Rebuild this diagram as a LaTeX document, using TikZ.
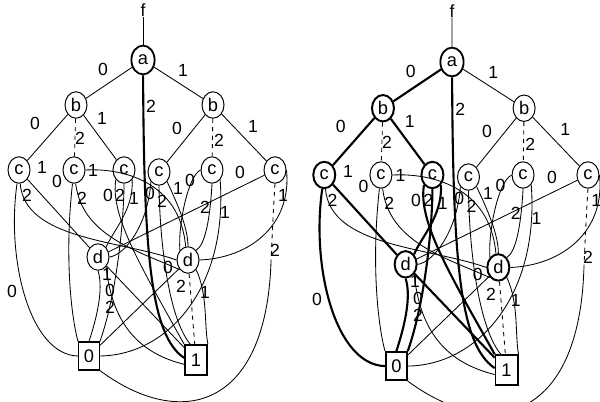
\documentclass[tikz,border=0pt]{standalone}
\usepackage{fontspec}
\setmainfont{Liberation Sans}
\usetikzlibrary{shapes.geometric}

\tikzset{
	var/.style={draw, ellipse, line width=0.7pt, minimum width=0.55cm, minimum height=0.66cm, inner sep=0pt, font=\fontsize{13}{13}\selectfont},
	term/.style={draw, rectangle, line width=0.8pt, minimum width=0.52cm, minimum height=0.7cm, inner sep=0pt, font=\fontsize{13}{13}\selectfont},
	etq/.style={inner sep=0pt, font=\fontsize{12.5}{12.5}\selectfont},
	arista/.style={line width=0.6pt},
	marca/.style={},
	marcanodo/.style={},
}

\newcommand{\diagrama}[1]{%
	% Nodos
		\node[etq] (#1f) at (143,10) {f};
		\node[var, line width=1.3pt, minimum width=0.58cm, minimum height=0.72cm] (#1a) at (143,60) {a};
		\node[var, marcanodo] (#1b0) at (76,105) {b};
		\node[var] (#1b1) at (213,105) {b};
		\node[var, marcanodo] (#1c1) at (19,170) {c};
		\node[var] (#1c2) at (74,170) {c};
		\node[var, marcanodo] (#1c3) at (124,170) {c};
		\node[var] (#1c4) at (159,172) {c};
		\node[var] (#1c5) at (212,170) {c};
		\node[var] (#1c6) at (275,170) {c};
		\node[var, marcanodo] (#1d1) at (98,257) {d};
		\node[var, marcanodo] (#1d2) at (188,260) {d};
		\node[term, marcanodo] (#1t0) at (89,356) {0};
		\node[term, line width=1.3pt, minimum width=0.55cm, minimum height=0.75cm] (#1t1) at (196,360) {1};
		\coordinate (#1m6) at (271,262);
	% Aristas de a
		\draw[arista] (#1f) -- (#1a);
		\draw[arista, marca] (#1a) -- (#1b0);
		\draw[arista] (#1a) -- (#1b1);
		\draw[line width=1.5pt] (#1a) .. controls (144,250) and (150,335) .. (#1t1.170);
	% Aristas de b
		\draw[arista, marca] (#1b0) -- (#1c1);
		\draw[arista, dashed] (#1b0) -- (#1c2);
		\draw[arista, marca] (#1b0) -- (#1c3);
		\draw[arista] (#1b1) -- (#1c4);
		\draw[arista, dashed] (#1b1) -- (#1c5);
		\draw[arista] (#1b1) -- (#1c6);
	% Aristas de c
		\draw[arista, marca] (#1c1) .. controls (6,260) and (30,355) .. (#1t0.west);
		\draw[arista, marca] (#1c1) -- (#1d1);
		\draw[arista] (#1c1) .. controls (25,240) and (120,240) .. (#1d2.west);
		\draw[arista] (#1c2) .. controls (64,260) and (72,320) .. (#1t0.north west);
		\draw[arista] (#1c2.east) .. controls (120,168) and (180,180) .. (#1d2.100);
		\draw[arista] (#1c2) .. controls (82,235) and (135,250) .. (#1d2.south west);
		\draw[arista, marca] (#1c3.south west) .. controls (110,215) and (140,265) .. (#1t1.north west);
		\draw[arista, marca] (#1c3.south) .. controls (124,215) and (118,290) .. (#1t0.north east);
		\draw[arista, marca] (#1c3.south east) .. controls (134,210) and (112,232) .. (#1d1.north east);
		\draw[arista] (#1c4.south west) .. controls (148,225) and (125,255) .. (#1d1.east);
		\draw[arista] (#1c4.south) .. controls (160,250) and (170,320) .. (#1t1.110);
		\draw[arista] (#1c4.south east) .. controls (178,205) and (188,228) .. (#1d2.north);
		\draw[arista] (#1c5.west) .. controls (188,176) and (178,225) .. (#1d2.north west);
		\draw[arista] (#1c5.south) .. controls (210,220) and (205,245) .. (#1d2.north east);
		\draw[arista] (#1c5.south east) .. controls (228,285) and (170,355) .. (#1t0.east);
		\draw[arista] (#1c6) -- (#1d1);
		\draw[arista] (#1c6.east) .. controls (292,225) and (250,258) .. (#1d2.east);
		\draw[arista, dashed] (#1c6.south) .. controls (273,215) and (272,240) .. (#1m6);
		\draw[arista] (#1m6) .. controls (266,410) and (180,430) .. (#1t0.south east);
	% Aristas de d
		\draw[arista, marca] (#1d1) -- (#1t1);
		\draw[arista, marca] (#1d1.south) .. controls (104,290) and (96,320) .. (#1t0.north);
		\draw[arista] (#1d1.south east) .. controls (112,320) and (135,352) .. (#1t1.200);
		\draw[arista] (#1d2) -- (#1t0);
		\draw[arista, dashed] (#1d2) -- (#1t1);
		\draw[arista] (#1d2.south east) .. controls (208,295) and (204,325) .. (#1t1.north east);
	% Etiquetas
		\foreach \x/\y/\t [count=\i] in {103/69/0, 183/70/1, 151/106/2,
			35/123/0, 80/138/2, 102/118/1, 177/128/0, 219/140/2, 253/126/1,
			42/167/1, 27/195/2, 12/291/0, 93/170/1, 57/181/0, 82/198/2,
			108/195/0, 120/195/2, 134/198/1, 150/193/0, 162/201/2, 178/188/1,
			190/180/0, 205/207/2, 225/212/1, 240/172/0, 283/195/1, 275/250/2,
			107/274/1, 110/290/0, 110/307/2, 168/267/0, 181/286/2, 205/292/1}
			\node[etq] (#1e\i) at (\x,\y) {\t};
}

\begin{document}
\begin{tikzpicture}[x=0.025cm, y=-0.025cm]
	\useasboundingbox (0,0) rectangle (600,402);
	% Diagrama sin marcar
		\diagrama{L}
	% Diagrama con caminos marcados
		\begin{scope}[shift={(304.7,0.4)}, xscale=1.03, yscale=1.027, marca/.style={line width=1.5pt}, marcanodo/.style={line width=1.4pt}]
			\diagrama{R}
		\end{scope}
\end{tikzpicture}
\end{document}
